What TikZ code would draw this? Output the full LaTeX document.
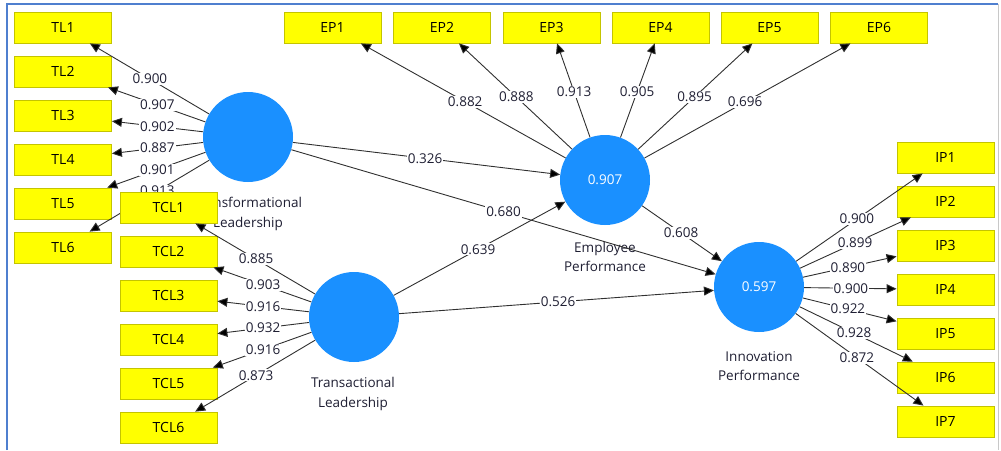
\documentclass[tikz,border=0pt]{standalone}
\usepackage{fontspec}
\setmainfont{Open Sans}
\usetikzlibrary{arrows.meta,calc}
\definecolor{boxyellow}{HTML}{FFFF00}
\definecolor{boxedge}{HTML}{C4C400}
\definecolor{lvblue}{HTML}{1A90FF}
\definecolor{edgecol}{HTML}{303030}
\definecolor{txtcol}{HTML}{1F1F33}
\definecolor{frameblue}{HTML}{4F7FCF}
\definecolor{framegray}{HTML}{C8C8C8}
\tikzset{
  ind/.style={draw=boxedge, fill=boxyellow, line width=0.8pt, minimum width=97pt, minimum height=31pt, inner sep=0pt, font=\fontsize{14}{14}\selectfont, text=black},
  lat/.style={circle, fill=lvblue, minimum size=90pt, inner sep=0pt, text=white, font=\fontsize{13.5}{14}\selectfont},
  lname/.style={align=center, font=\fontsize{13.5}{19.5}\selectfont, text=txtcol},
  val/.style={fill=white, inner sep=1pt, font=\fontsize{13.5}{14}\selectfont, text=txtcol},
  link/.style={draw=edgecol, line width=0.9pt, -{Triangle[length=10pt,width=9pt,fill=black]}},
}
\begin{document}
\begin{tikzpicture}[x=1pt,y=-1pt]
\useasboundingbox (0,0) rectangle (1001,450);
% frame
\coordinate (fTL) at (7,4);
\coordinate (fTR) at (998,4);
\coordinate (fBL) at (7,450);
\coordinate (fBR) at (998,450);
\draw[framegray, line width=1pt] (fTR) -- (fBR);
\draw[frameblue, line width=1.3pt] (fBL) -- (fTL) -- (fTR);

% ---------- Transformational Leadership ----------
\foreach \i in {1,...,6} {
  \node[ind] (TL\i) at (63,{27.5+44*(\i-1)}) {TL\i};
}
\node[lname] (nTfL) at (248,214) {Transformational\\Leadership};
\node[lat] (TfL) at (248,137) {};
\foreach \i in {1,...,6} { \draw[link] (TfL) -- (TL\i); }
\foreach \i/\v/\f in {1/0.900/0.53, 2/0.907/0.49, 3/0.902/0.49, 4/0.887/0.49, 5/0.901/0.49, 6/0.913/0.49} {
  \node[val] (vTL\i) at ($(TfL)!\f!(TL\i)$) {\v};
}

% ---------- Transactional Leadership ----------
\foreach \i in {1,...,6} {
  \node[ind] (TCL\i) at (168.5,{207.5+44*(\i-1)}) {TCL\i};
}
\node[lname] (nTrL) at (353,394) {Transactional\\Leadership};
\node[lat] (TrL) at (354,317) {};
\foreach \i in {1,...,6} { \draw[link] (TrL) -- (TCL\i); }
\foreach \i/\v/\f in {1/0.885/0.528, 2/0.903/0.49, 3/0.916/0.49, 4/0.932/0.49, 5/0.916/0.49, 6/0.873/0.528} {
  \node[val] (vTCL\i) at ($(TrL)!\f!(TCL\i)$) {\v};
}

% ---------- Employee Performance ----------
\foreach \i/\x in {1/332.5, 2/442, 3/551.5, 4/660.5, 5/769.5, 6/879} {
  \node[ind] (EP\i) at (\x,27.5) {EP\i};
}
\node[lname] (nEP) at (605,257) {Employee\\Performance};
\node[lat] (EPc) at (605,180) {0.907};
\foreach \i in {1,...,6} { \draw[link] (EPc) -- (EP\i); }
\foreach \i/\v/\f in {1/0.882/0.513, 2/0.888/0.544, 3/0.913/0.577, 4/0.905/0.577, 5/0.895/0.544, 6/0.696/0.511} {
  \node[val] (vEP\i) at ($(EPc)!\f!(EP\i)$) {\v};
}

% ---------- Innovation Performance ----------
\foreach \i in {1,...,7} {
  \node[ind] (IP\i) at (945.5,{157.5+44*(\i-1)}) {IP\i};
}
\node[lname] (nIP) at (759,366) {Innovation\\Performance};
\node[lat] (IPc) at (759,287) {0.597};
\foreach \i in {1,...,7} { \draw[link] (IPc) -- (IP\i); }
\foreach \i/\v/\f in {1/0.900/0.525, 2/0.899/0.515, 3/0.890/0.477, 4/0.900/0.493, 5/0.922/0.477, 6/0.928/0.51, 7/0.872/0.525} {
  \node[val] (vIP\i) at ($(IPc)!\f!(IP\i)$) {\v};
}

% ---------- structural paths ----------
\draw[link] (TfL) -- (EPc);
\draw[link] (TfL) -- (IPc);
\draw[link] (TrL) -- (EPc);
\draw[link] (TrL) -- (IPc);
\draw[link] (EPc) -- (IPc);
\node[val] (p1) at ($(TfL)!0.496!(EPc)$) {0.326};
\node[val] (p2) at ($(TfL)!0.5!(IPc)$) {0.680};
\node[val] (p3) at ($(TrL)!0.494!(EPc)$) {0.639};
\node[val] (p4) at ($(TrL)!0.504!(IPc)$) {0.526};
\node[val] (p5) at ($(EPc)!0.494!(IPc)$) {0.608};
\end{tikzpicture}
\end{document}
